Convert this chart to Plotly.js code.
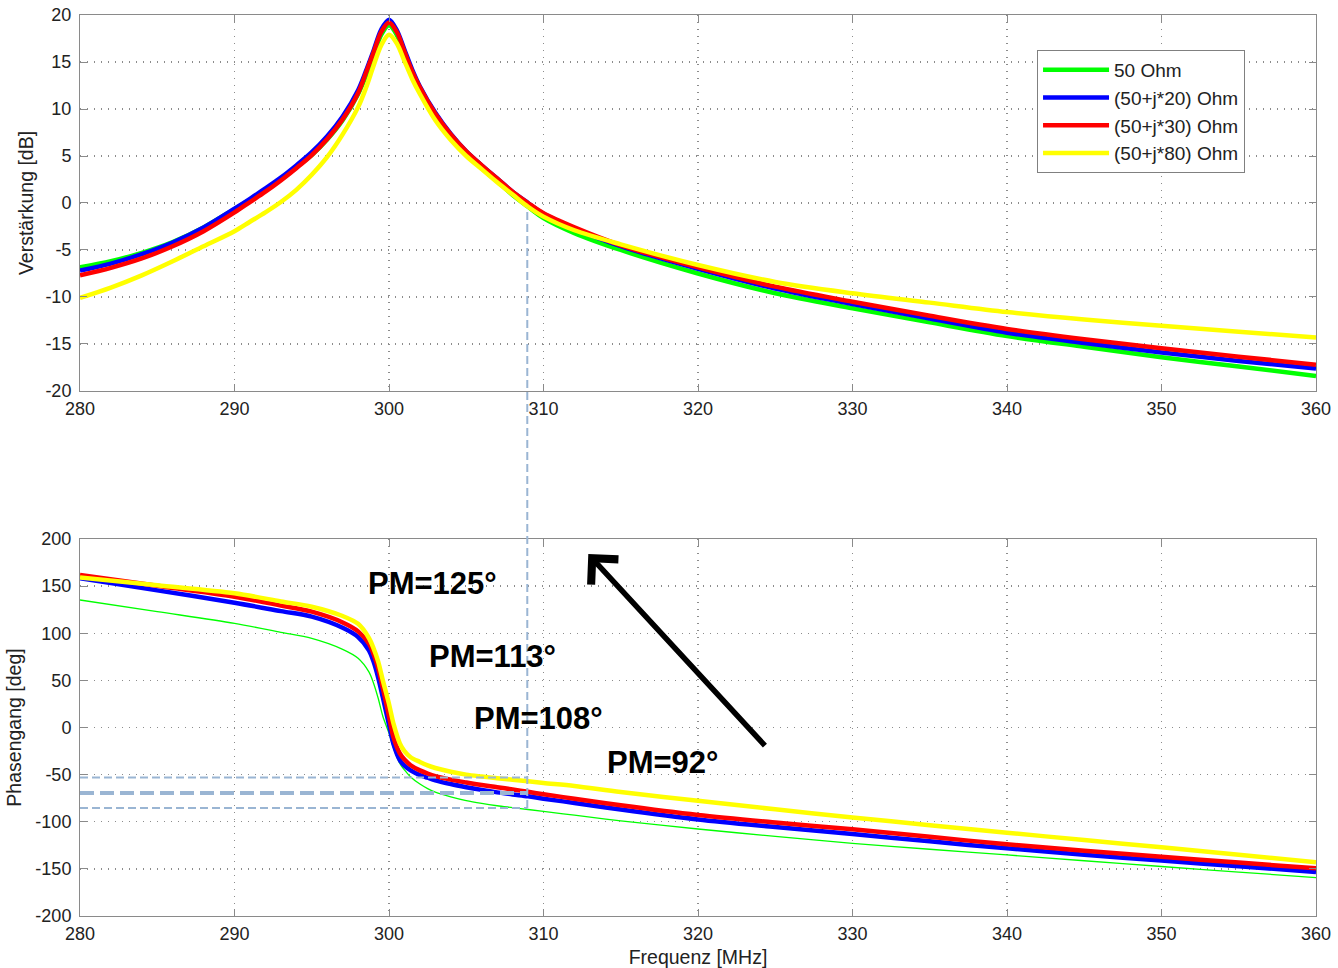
<!DOCTYPE html>
<html>
<head>
<meta charset="utf-8">
<script src="https://cdn.plot.ly/plotly-3.0.1.min.js"></script>
<style>html,body{margin:0;padding:0;background:#fff;}#chart{width:1338px;height:968px;}</style>
</head>
<body>
<div id="chart"></div>
<script>
// ---------- DATA ----------
const seriesNames = ['50 Ohm', '(50+j*20) Ohm', '(50+j*30) Ohm', '(50+j*80) Ohm'];
const seriesColors = ['#00ff00', '#0000ff', '#ff0000', '#ffff00'];

// Magnitude (Verstärkung) frequencies [MHz]
const freqMag = [280,282,284,286,288,290,291,292,293,294,295,296,297,298,298.5,299,299.5,300,300.5,301,301.5,302,303,304,305,306,307,308,309,310,312,315,320,325,330,335,340,345,350,355,360];
const magGreen  = [-6.85,-6.2,-5.3,-4.15,-2.6,-0.65,0.35,1.4,2.5,3.8,5.1,6.75,8.8,11.6,13.5,15.7,17.9,18.9,17.9,15.8,13.7,12.0,9.2,7.0,5.2,3.7,2.3,0.85,-0.4,-1.6,-3.2,-5.0,-7.5,-9.6,-11.2,-12.7,-14.15,-15.3,-16.4,-17.4,-18.4];
const magBlue   = [-7.2,-6.45,-5.45,-4.2,-2.6,-0.6,0.45,1.55,2.7,4.0,5.4,7.1,9.2,12.0,14.0,16.2,18.45,19.5,18.4,16.3,14.2,12.4,9.6,7.35,5.5,4.0,2.6,1.2,0.0,-1.15,-2.7,-4.6,-7.0,-9.1,-10.75,-12.3,-13.8,-14.9,-15.9,-16.8,-17.6];
const magRed    = [-7.7,-6.9,-5.9,-4.6,-3.0,-1.0,0.1,1.2,2.4,3.7,5.1,6.8,8.9,11.7,13.8,16.0,18.2,19.2,18.2,16.1,14.0,12.3,9.5,7.3,5.5,4.0,2.6,1.2,0.0,-1.1,-2.6,-4.5,-6.85,-8.9,-10.5,-12.0,-13.4,-14.5,-15.45,-16.35,-17.2];
const magYellow = [-10.1,-9.0,-7.7,-6.2,-4.6,-3.0,-2.0,-1.0,0.1,1.4,3.0,4.9,7.3,10.2,12.2,14.6,16.8,17.9,17.0,15.1,13.2,11.6,8.8,6.7,5.0,3.6,2.2,0.9,-0.4,-1.45,-2.9,-4.4,-6.6,-8.4,-9.6,-10.6,-11.6,-12.4,-13.05,-13.7,-14.3];

// Phase (Phasengang) frequencies [MHz]
const freqPhase = [280,285,290,293,295,297,298,298.7,299,299.3,299.6,300,300.3,300.7,301,301.4,302,302.5,303,304,305,306,307,308,309,310,312,315,320,325,330,335,340,345,350,355,360];
const phGreen  = [135.3,123,110.5,101,94.6,83,73.5,59,47,31,12,-6,-22,-38,-45,-52.5,-60,-64.8,-68.5,-73.5,-77.5,-80.5,-83,-85,-87,-89,-93,-99,-107.7,-115.5,-122.9,-129.2,-135.2,-141.4,-147.5,-153.4,-159.2];
const phBlue   = [158.3,145.5,132.4,123.5,117.6,105.8,96,82,70,53,32,3,-18,-34.5,-40.5,-45.5,-50.5,-53.3,-56,-60,-63.3,-66.2,-68.8,-71,-73,-75.5,-80,-87,-97.5,-105.5,-113,-120.8,-128.2,-134.9,-141.2,-147.2,-153.2];
const phRed    = [161.8,150.5,138.8,129.5,122.9,111.5,102,89,78,63,42,12,-11,-27.4,-34,-40,-45.5,-48.8,-51.5,-55.3,-58.3,-61,-63.3,-65.8,-68.2,-70.9,-75.5,-82.5,-92.8,-100.8,-108,-116,-123.9,-130.7,-137.1,-143.3,-149.4];
const phYellow = [159.3,151,142.4,133.8,128.2,118.3,110,95,84,70,50,25,3.5,-16.8,-25,-31.5,-36.5,-40.2,-43,-47,-50,-52,-53.8,-55.5,-57,-58.8,-62,-68.5,-77.8,-86.8,-95.4,-103.6,-111.6,-119.4,-127.1,-135,-143];

// Reference markings
const crossoverFreq = 308.95;          // 0 dB crossover [MHz]
const crossoverGain = -0.5;            // where the vertical marker starts in the gain plot [dB]
const pmPhaseLevels = [-53, -69.5, -85.5]; // phase levels of the dashed markers [deg]
const pmLabels = ['PM=125°', 'PM=113°', 'PM=108°', 'PM=92°'];
const pmLabelFreq = [302.8, 306.7, 309.65, 317.7];
const pmLabelPhase = [153, 75, 10, -37.5];
const arrowTip = [312.9, 184];         // [MHz, deg]

const xTicks = [280,290,300,310,320,330,340,350,360];
const magTicks = [-20,-15,-10,-5,0,5,10,15,20];
const phaseTicks = [-200,-150,-100,-50,0,50,100,150,200];

// ---------- BUILD ----------
const FONT = 'Liberation Sans, Arial, sans-serif';
const magSeries = [magGreen, magBlue, magRed, magYellow];
const phSeries = [phGreen, phBlue, phRed, phYellow];
const traces = [];
magSeries.forEach((ys, i) => {
  traces.push({
    x: freqMag, y: ys, type: 'scatter', mode: 'lines',
    name: seriesNames[i], legendgroup: 'g' + i,
    line: {color: seriesColors[i], width: 4.5, shape: 'spline', smoothing: 0.9},
    xaxis: 'x', yaxis: 'y', hoverinfo: 'skip'
  });
});
phSeries.forEach((ys, i) => {
  traces.push({
    x: freqPhase, y: ys, type: 'scatter', mode: 'lines',
    name: seriesNames[i], legendgroup: 'g' + i, showlegend: false,
    line: {color: seriesColors[i], width: i === 0 ? 1.3 : 4.5, shape: 'spline', smoothing: 0.9},
    xaxis: 'x2', yaxis: 'y2', hoverinfo: 'skip'
  });
});

const topDomain = [0.5827, 1];
const botDomain = [0, 0.4184];
const magRange = [-20, 20];
const phRange = [-200, 200];

const hyphenLabels = arr => arr.map(v => String(v));  // plain hyphen-minus as in the original

const gridCol = '#8c8c8c';
const axisCommon = {
  showline: true, linecolor: '#8a8a8a', linewidth: 1, mirror: 'ticks',
  ticks: 'inside', ticklen: 7, tickcolor: '#8a8a8a',
  showgrid: true, gridcolor: gridCol, griddash: '1px,6px', gridwidth: 1.3,
  zeroline: false, tickfont: {family: FONT, size: 18, color: '#222'},
  tickmode: 'array', ticklabelstandoff: 4
};
const titleFont = {family: FONT, size: 19.5, color: '#222'};

const refColor = '#9ab5d3';
const shapes = [];
pmPhaseLevels.forEach((lvl, i) => {
  shapes.push({
    type: 'line', xref: 'x2', yref: 'y2',
    x0: xTicks[0], x1: crossoverFreq, y0: lvl, y1: lvl,
    line: {color: refColor, width: i === 1 ? 4 : 2, dash: i === 1 ? '14px,6px' : '8px,4px'}
  });
});
// vertical marker spanning both plots (paper coords computed from axis scales)
const toPaperTop = v => topDomain[0] + (topDomain[1] - topDomain[0]) * (v - magRange[0]) / (magRange[1] - magRange[0]);
const toPaperBot = v => botDomain[0] + (botDomain[1] - botDomain[0]) * (v - phRange[0]) / (phRange[1] - phRange[0]);
shapes.push({
  type: 'line', xref: 'x', yref: 'paper',
  x0: crossoverFreq, x1: crossoverFreq,
  y0: toPaperBot(pmPhaseLevels[2]), y1: toPaperTop(crossoverGain),
  line: {color: refColor, width: 2, dash: '8px,4px'}
});

const annotations = pmLabels.map((t, i) => ({
  text: t, xref: 'x2', yref: 'y2', x: pmLabelFreq[i], y: pmLabelPhase[i],
  showarrow: false, font: {family: FONT, size: 31, color: '#000', weight: 700}
}));
annotations.push({
  text: '', xref: 'x2', yref: 'y2', x: arrowTip[0], y: arrowTip[1],
  axref: 'pixel', ayref: 'pixel', ax: 178, ay: 193,
  showarrow: true, arrowhead: 4, arrowsize: 1.3, arrowwidth: 5.5, arrowcolor: '#000', standoff: 0
});

const layout = {
  width: 1338, height: 968,
  margin: {l: 80, r: 22, t: 15, b: 52},
  paper_bgcolor: '#fff', plot_bgcolor: '#fff',
  font: {family: FONT, size: 18, color: '#222'},
  showlegend: true,
  legend: {
    x: 0.7743, y: 0.9612, xanchor: 'left', yanchor: 'top',
    bgcolor: '#fff', bordercolor: '#808080', borderwidth: 1,
    font: {family: FONT, size: 19, color: '#222'},
    itemwidth: 66, tracegroupgap: 0
  },
  xaxis: Object.assign({}, axisCommon, {domain: [0, 1], range: [280, 360], anchor: 'y',
    tickvals: xTicks, ticktext: hyphenLabels(xTicks), ticklabelstandoff: 1}),
  yaxis: Object.assign({}, axisCommon, {domain: topDomain, range: magRange, anchor: 'x',
    tickvals: magTicks, ticktext: hyphenLabels(magTicks),
    title: {text: 'Verstärkung [dB]', font: titleFont, standoff: 6}}),
  xaxis2: Object.assign({}, axisCommon, {domain: [0, 1], range: [280, 360], anchor: 'y2',
    tickvals: xTicks, ticktext: hyphenLabels(xTicks), ticklabelstandoff: 1,
    title: {text: 'Frequenz [MHz]', font: titleFont, standoff: 8}}),
  yaxis2: Object.assign({}, axisCommon, {domain: botDomain, range: phRange, anchor: 'x2',
    tickvals: phaseTicks, ticktext: hyphenLabels(phaseTicks),
    title: {text: 'Phasengang [deg]', font: titleFont, standoff: 8}}),
  shapes: shapes,
  annotations: annotations
};

Plotly.newPlot('chart', traces, layout, {staticPlot: true, displayModeBar: false});
</script>
</body>
</html>
